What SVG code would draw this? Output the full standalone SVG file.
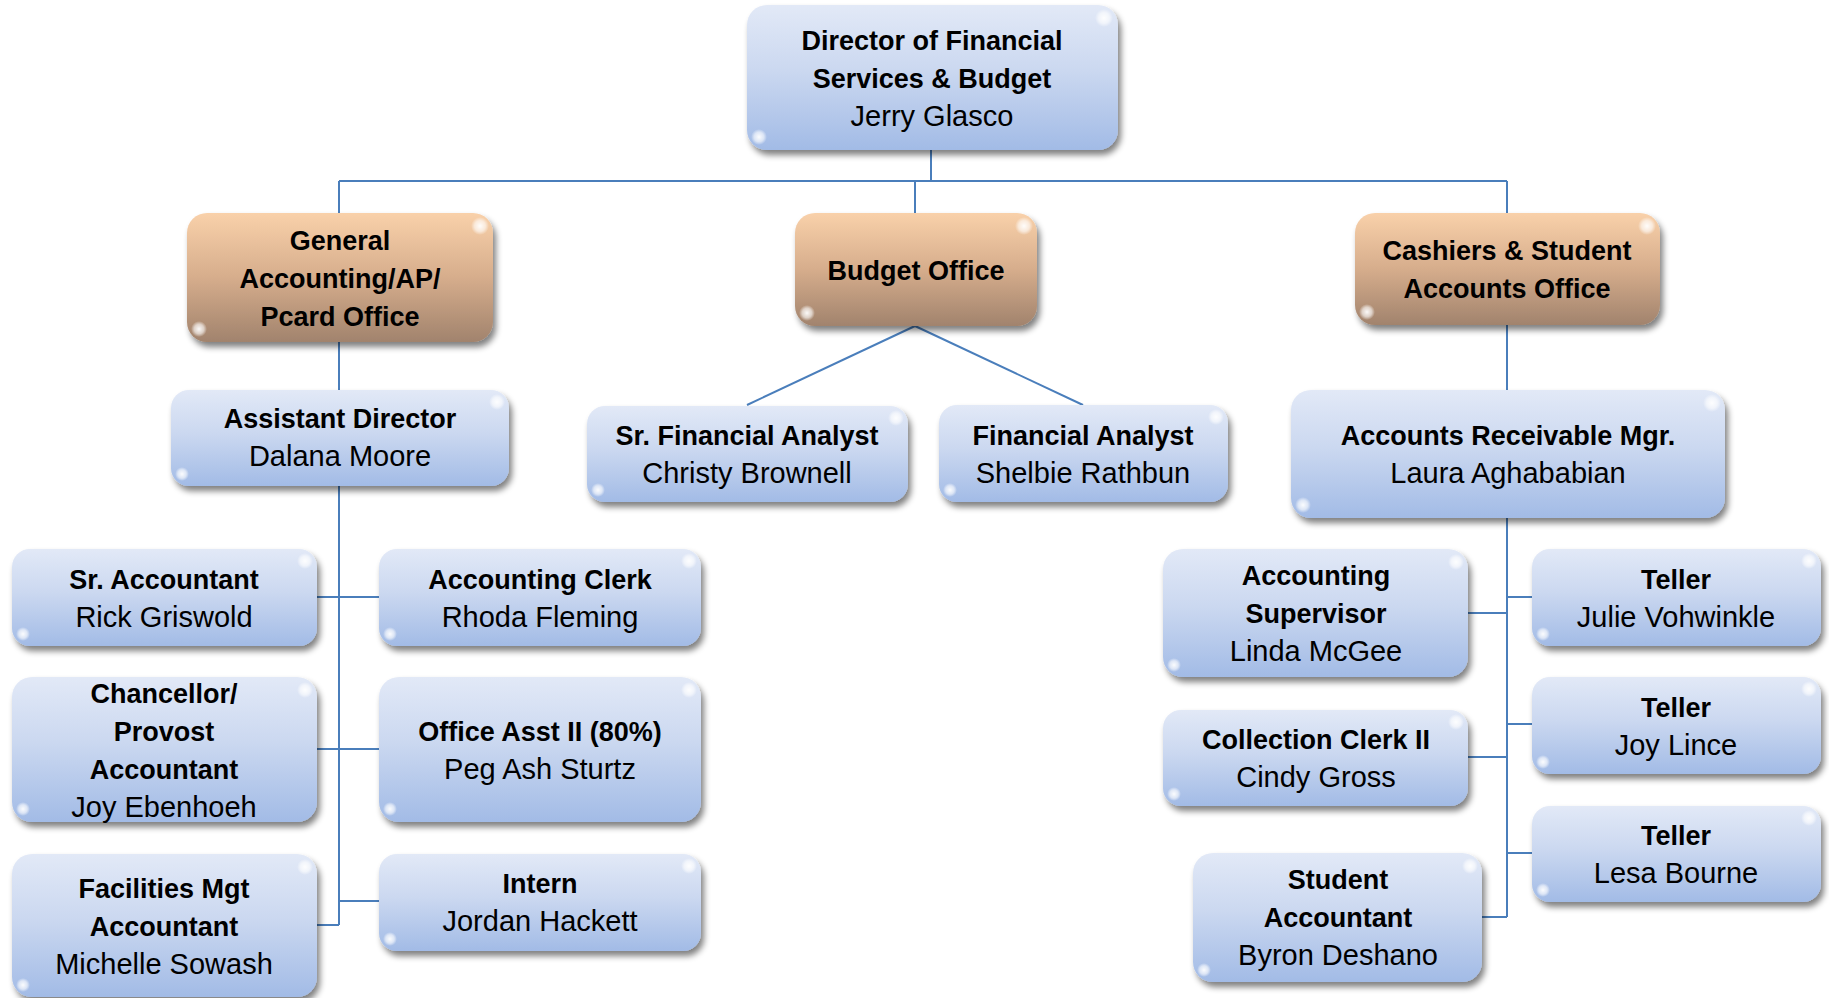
<svg xmlns="http://www.w3.org/2000/svg" width="1829" height="998" viewBox="0 0 1829 998">
<defs>
<linearGradient id="gBlue" x1="0" y1="0" x2="0" y2="1">
<stop offset="0" stop-color="#e2e9f7"/>
<stop offset="0.45" stop-color="#cbd8f0"/>
<stop offset="1" stop-color="#a2bbe6"/>
</linearGradient>
<linearGradient id="gOrange" x1="0" y1="0" x2="0" y2="1">
<stop offset="0" stop-color="#f9d1aa"/>
<stop offset="0.5" stop-color="#d6ad8c"/>
<stop offset="1" stop-color="#a1836d"/>
</linearGradient>
<radialGradient id="hl">
<stop offset="0" stop-color="#ffffff" stop-opacity="0.95"/>
<stop offset="0.6" stop-color="#ffffff" stop-opacity="0.6"/>
<stop offset="1" stop-color="#ffffff" stop-opacity="0"/>
</radialGradient>
<filter id="sh" x="-10%" y="-10%" width="125%" height="135%">
<feGaussianBlur in="SourceAlpha" stdDeviation="3"/>
<feOffset dx="3" dy="5" result="o"/>
<feComponentTransfer><feFuncA type="linear" slope="0.5"/></feComponentTransfer>
<feMerge><feMergeNode/><feMergeNode in="SourceGraphic"/></feMerge>
</filter>
</defs>
<style>
.b{fill:url(#gBlue);filter:url(#sh)}
.o{fill:url(#gOrange);filter:url(#sh)}
.h{fill:url(#hl)}
.t{font-family:"Liberation Sans",Arial,sans-serif;font-size:27px;font-weight:bold;fill:#000;text-anchor:middle}
.n{font-family:"Liberation Sans",Arial,sans-serif;font-size:29px;font-weight:normal;fill:#000;text-anchor:middle}
.c{fill:none;stroke:#4a7ebb;stroke-width:2}
</style>
<rect width="1829" height="998" fill="#ffffff"/>
<g id="connectors" class="c">
<path d="M931 150 V181"/>
<path d="M339 181 H1507"/>
<path d="M915 181 V213"/>
<path d="M339 181 V213"/>
<path d="M1507 181 V213"/>
<path d="M339 342 V390"/>
<path d="M339 486 V925"/>
<path d="M317 597 H379"/>
<path d="M317 749 H379"/>
<path d="M339 901 H379"/>
<path d="M317 925 H339"/>
<path d="M915 326 L747 405"/>
<path d="M915 326 L1083 405"/>
<path d="M1507 325 V390"/>
<path d="M1507 518 V917"/>
<path d="M1468 613 H1507"/>
<path d="M1507 597 H1532"/>
<path d="M1507 724 H1532"/>
<path d="M1468 757 H1507"/>
<path d="M1507 853 H1532"/>
<path d="M1482 917 H1507"/>
</g>
<g id="director">
<rect class="b" x="747" y="5" width="371" height="145" rx="20"/>
<circle class="h" cx="1104" cy="18" r="9"/><circle class="h" cx="759" cy="137" r="8"/>
<text class="t" x="932" y="50">Director of Financial</text>
<text class="t" x="932" y="88">Services &amp; Budget</text>
<text class="n" x="932" y="126">Jerry Glasco</text>
</g>
<g id="general-accounting">
<rect class="o" x="187" y="213" width="306" height="129" rx="20"/>
<circle class="h" cx="480" cy="226" r="9"/><circle class="h" cx="199" cy="329" r="8"/>
<text class="t" x="340" y="250">General</text>
<text class="t" x="340" y="288">Accounting/AP/</text>
<text class="t" x="340" y="326">Pcard Office</text>
</g>
<g id="budget-office">
<rect class="o" x="795" y="213" width="242" height="113" rx="20"/>
<circle class="h" cx="1024" cy="226" r="9"/><circle class="h" cx="807" cy="313" r="8"/>
<text class="t" x="916" y="280">Budget Office</text>
</g>
<g id="cashiers">
<rect class="o" x="1355" y="213" width="305" height="112" rx="20"/>
<circle class="h" cx="1647" cy="226" r="9"/><circle class="h" cx="1367" cy="312" r="8"/>
<text class="t" x="1507" y="260">Cashiers &amp; Student</text>
<text class="t" x="1507" y="298">Accounts Office</text>
</g>
<g id="assistant-director">
<rect class="b" x="171" y="390" width="338" height="96" rx="18"/>
<circle class="h" cx="497" cy="402" r="8"/><circle class="h" cx="182" cy="474" r="7"/>
<text class="t" x="340" y="428">Assistant Director</text>
<text class="n" x="340" y="466">Dalana Moore</text>
</g>
<g id="sr-financial-analyst">
<rect class="b" x="587" y="406" width="321" height="96" rx="18"/>
<circle class="h" cx="896" cy="418" r="8"/><circle class="h" cx="598" cy="490" r="7"/>
<text class="t" x="747" y="445">Sr. Financial Analyst</text>
<text class="n" x="747" y="483">Christy Brownell</text>
</g>
<g id="financial-analyst">
<rect class="b" x="939" y="405" width="289" height="97" rx="18"/>
<circle class="h" cx="1216" cy="417" r="8"/><circle class="h" cx="950" cy="490" r="7"/>
<text class="t" x="1083" y="445">Financial Analyst</text>
<text class="n" x="1083" y="483">Shelbie Rathbun</text>
</g>
<g id="accounts-receivable-mgr">
<rect class="b" x="1291" y="390" width="434" height="128" rx="20"/>
<circle class="h" cx="1712" cy="403" r="9"/><circle class="h" cx="1303" cy="505" r="8"/>
<text class="t" x="1508" y="445">Accounts Receivable Mgr.</text>
<text class="n" x="1508" y="483">Laura Aghababian</text>
</g>
<g id="sr-accountant">
<rect class="b" x="12" y="549" width="305" height="97" rx="18"/>
<circle class="h" cx="305" cy="561" r="8"/><circle class="h" cx="23" cy="634" r="7"/>
<text class="t" x="164" y="589">Sr. Accountant</text>
<text class="n" x="164" y="627">Rick Griswold</text>
</g>
<g id="accounting-clerk">
<rect class="b" x="379" y="549" width="322" height="97" rx="18"/>
<circle class="h" cx="689" cy="561" r="8"/><circle class="h" cx="390" cy="634" r="7"/>
<text class="t" x="540" y="589">Accounting Clerk</text>
<text class="n" x="540" y="627">Rhoda Fleming</text>
</g>
<g id="chancellor-provost-accountant">
<rect class="b" x="12" y="677" width="305" height="145" rx="20"/>
<circle class="h" cx="305" cy="690" r="8"/><circle class="h" cx="23" cy="809" r="7"/>
<text class="t" x="164" y="703">Chancellor/</text>
<text class="t" x="164" y="741">Provost</text>
<text class="t" x="164" y="779">Accountant</text>
<text class="n" x="164" y="817">Joy Ebenhoeh</text>
</g>
<g id="office-asst">
<rect class="b" x="379" y="677" width="322" height="145" rx="20"/>
<circle class="h" cx="689" cy="690" r="8"/><circle class="h" cx="390" cy="809" r="7"/>
<text class="t" x="540" y="741">Office Asst II (80%)</text>
<text class="n" x="540" y="779">Peg Ash Sturtz</text>
</g>
<g id="facilities-mgt-accountant">
<rect class="b" x="12" y="854" width="305" height="143" rx="20"/>
<circle class="h" cx="305" cy="867" r="8"/><circle class="h" cx="23" cy="985" r="7"/>
<text class="t" x="164" y="898">Facilities Mgt</text>
<text class="t" x="164" y="936">Accountant</text>
<text class="n" x="164" y="974">Michelle Sowash</text>
</g>
<g id="intern">
<rect class="b" x="379" y="854" width="322" height="97" rx="18"/>
<circle class="h" cx="689" cy="866" r="8"/><circle class="h" cx="390" cy="939" r="7"/>
<text class="t" x="540" y="893">Intern</text>
<text class="n" x="540" y="931">Jordan Hackett</text>
</g>
<g id="accounting-supervisor">
<rect class="b" x="1163" y="549" width="305" height="128" rx="20"/>
<circle class="h" cx="1456" cy="562" r="8"/><circle class="h" cx="1174" cy="665" r="7"/>
<text class="t" x="1316" y="585">Accounting</text>
<text class="t" x="1316" y="623">Supervisor</text>
<text class="n" x="1316" y="661">Linda McGee</text>
</g>
<g id="collection-clerk">
<rect class="b" x="1163" y="710" width="305" height="96" rx="18"/>
<circle class="h" cx="1456" cy="722" r="8"/><circle class="h" cx="1174" cy="794" r="7"/>
<text class="t" x="1316" y="749">Collection Clerk II</text>
<text class="n" x="1316" y="787">Cindy Gross</text>
</g>
<g id="student-accountant">
<rect class="b" x="1193" y="853" width="289" height="129" rx="20"/>
<circle class="h" cx="1470" cy="866" r="8"/><circle class="h" cx="1204" cy="970" r="7"/>
<text class="t" x="1338" y="889">Student</text>
<text class="t" x="1338" y="927">Accountant</text>
<text class="n" x="1338" y="965">Byron Deshano</text>
</g>
<g id="teller-julie">
<rect class="b" x="1532" y="549" width="289" height="97" rx="18"/>
<circle class="h" cx="1809" cy="561" r="8"/><circle class="h" cx="1543" cy="634" r="7"/>
<text class="t" x="1676" y="589">Teller</text>
<text class="n" x="1676" y="627">Julie Vohwinkle</text>
</g>
<g id="teller-joy">
<rect class="b" x="1532" y="677" width="289" height="97" rx="18"/>
<circle class="h" cx="1809" cy="689" r="8"/><circle class="h" cx="1543" cy="762" r="7"/>
<text class="t" x="1676" y="717">Teller</text>
<text class="n" x="1676" y="755">Joy Lince</text>
</g>
<g id="teller-lesa">
<rect class="b" x="1532" y="806" width="289" height="96" rx="18"/>
<circle class="h" cx="1809" cy="818" r="8"/><circle class="h" cx="1543" cy="890" r="7"/>
<text class="t" x="1676" y="845">Teller</text>
<text class="n" x="1676" y="883">Lesa Bourne</text>
</g>
</svg>
